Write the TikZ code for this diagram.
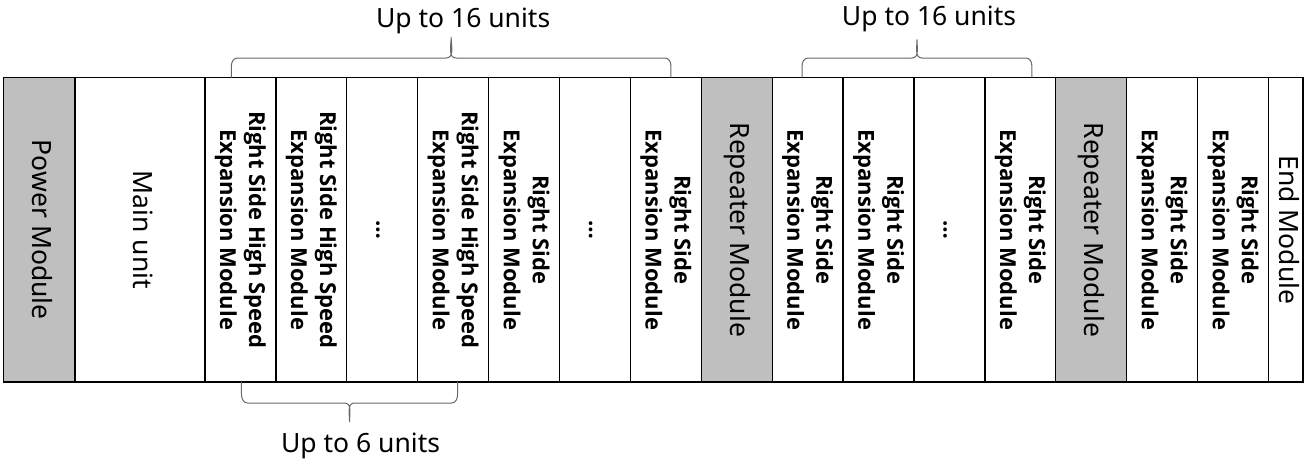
\documentclass[tikz,border=0pt]{standalone}
\usepackage{fontspec}
\setmainfont{Noto Sans}
\newfontfamily\modfont{Open Sans}
\usetikzlibrary{positioning,calc}
\definecolor{modgray}{RGB}{191,191,191}
\definecolor{bracegray}{RGB}{105,105,105}
\newcommand{\vtxt}[1]{\rotatebox{-90}{\begin{tabular}{@{}c@{}}#1\end{tabular}}}

\begin{document}
\begin{tikzpicture}[x=1pt,y=1pt,
    module/.style={draw,line width=1.3pt,minimum width=70.9pt,minimum height=304.5pt,
      inner sep=0pt,outer sep=0pt,font=\fontsize{22}{29}\selectfont\modfont\bfseries},
    plain/.style={module,font=\fontsize{26.5}{32}\selectfont},
    shaded/.style={plain,fill=modgray},
    brace/.style={draw=bracegray,line width=1pt},
    note/.style={font=\fontsize{26.5}{32}\selectfont,anchor=base,inner sep=0pt}]
  \useasboundingbox (0,0) rectangle (1304,-459);

  % base row
  \node[shaded,minimum width=71.5pt,anchor=north west] (pm) at (3.5,-77.5) {\vtxt{Power Module}};
  \node[plain,minimum width=130pt,right=0pt of pm] (mu) {\vtxt{Main unit}};
  \node[module,right=0pt of mu] (hs1) {\vtxt{Right Side High Speed\\Expansion Module}};
  \node[module,right=0pt of hs1] (hs2) {\vtxt{Right Side High Speed\\Expansion Module}};
  \node[module,right=0pt of hs2] (hsd) {\vtxt{…}};
  \node[module,right=0pt of hsd] (hs3) {\vtxt{Right Side High Speed\\Expansion Module}};
  \node[module,right=0pt of hs3] (rs1) {\vtxt{Right Side\\Expansion Module}};
  \node[module,right=0pt of rs1] (rsd) {\vtxt{…}};
  \node[module,right=0pt of rsd] (rs2) {\vtxt{Right Side\\Expansion Module}};
  \node[shaded,right=0pt of rs2] (rp1) {\vtxt{Repeater Module}};
  \node[module,right=0pt of rp1] (rb1) {\vtxt{Right Side\\Expansion Module}};
  \node[module,right=0pt of rb1] (rb2) {\vtxt{Right Side\\Expansion Module}};
  \node[module,right=0pt of rb2] (rbd) {\vtxt{…}};
  \node[module,right=0pt of rbd] (rb3) {\vtxt{Right Side\\Expansion Module}};
  \node[shaded,right=0pt of rb3] (rp2) {\vtxt{Repeater Module}};
  \node[module,right=0pt of rp2] (rc1) {\vtxt{Right Side\\Expansion Module}};
  \node[module,right=0pt of rc1] (rc2) {\vtxt{Right Side\\Expansion Module}};
  \node[plain,minimum width=34.5pt,right=0pt of rc2] (em) {\vtxt{End Module}};

  % braces
  \coordinate (t1a) at ($(hs1.north)+(-9,0)$);
  \coordinate (t1b) at ($(rs2.north)+(5,0)$);
  \coordinate (t1m) at ($(t1a)!.5!(t1b)$);
  \draw[brace] (t1a) -- ++(0,12) to[out=90,in=180] ++(6,7.5)
    -- ([shift={(-5,19.5)}]t1m) to[out=0,in=-90] ([shift={(0,40.5)}]t1m)
    to[out=-90,in=180] ([shift={(5,19.5)}]t1m)
    -- ([shift={(-6,19.5)}]t1b) to[out=0,in=90] ([shift={(0,12)}]t1b) -- (t1b);
  \node[note] (t1l) at ([shift={(12,50.5)}]t1m) {Up to 16 units};

  \coordinate (t2a) at ($(rb1.north)+(-5.5,0)$);
  \coordinate (t2b) at ($(rb3.north)+(11.5,0)$);
  \coordinate (t2m) at ($(t2a)!.5!(t2b)$);
  \draw[brace] (t2a) -- ++(0,12) to[out=90,in=180] ++(6,7.5)
    -- ([shift={(-5,19.5)}]t2m) to[out=0,in=-90] ([shift={(0,38)}]t2m)
    to[out=-90,in=180] ([shift={(5,19.5)}]t2m)
    -- ([shift={(-6,19.5)}]t2b) to[out=0,in=90] ([shift={(0,12)}]t2b) -- (t2b);
  \node[note] (t2l) at ([shift={(12,52.5)}]t2m) {Up to 16 units};

  \coordinate (b1a) at ($(hs1.south)+(1,0)$);
  \coordinate (b1b) at ($(hs3.south)+(4.5,0)$);
  \coordinate (b1m) at ($(b1a)!.5!(b1b)$);
  \draw[brace] (b1a) -- ++(0,-12) to[out=-90,in=180] ++(6,-9)
    -- ([shift={(-5,-21)}]b1m) to[out=0,in=90] ([shift={(0,-40)}]b1m)
    to[out=90,in=180] ([shift={(5,-21)}]b1m)
    -- ([shift={(-6,-21)}]b1b) to[out=0,in=-90] ([shift={(0,-12)}]b1b) -- (b1b);
  \node[note] (b1l) at ([shift={(11,-70)}]b1m) {Up to 6 units};
\end{tikzpicture}
\end{document}
